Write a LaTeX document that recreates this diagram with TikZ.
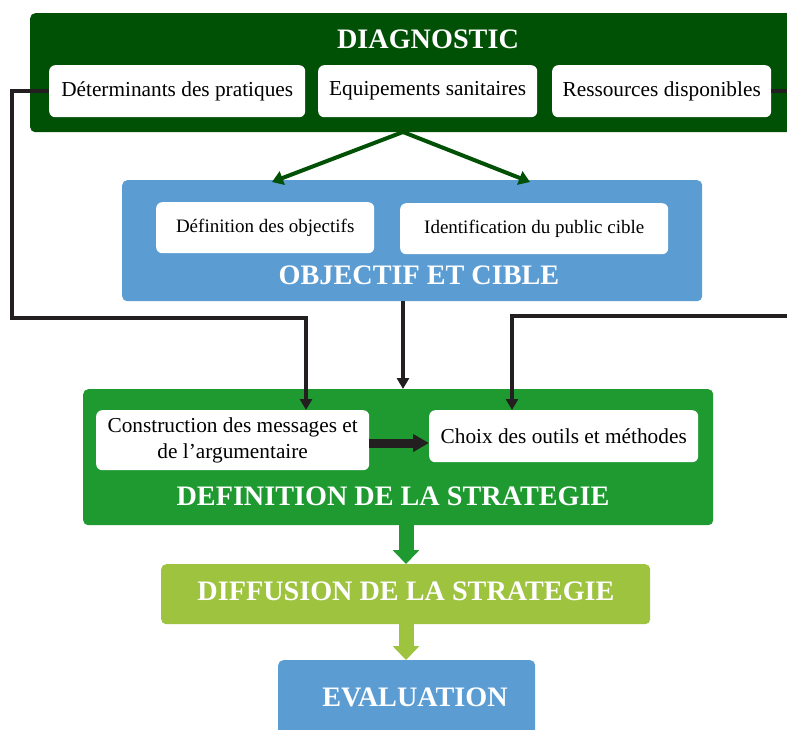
\documentclass[tikz,border=0pt]{standalone}
\usepackage{fontspec}
\setmainfont{Liberation Serif}
\usetikzlibrary{arrows.meta}
\definecolor{dgreen}{RGB}{0,80,5}
\definecolor{bblue}{RGB}{91,157,211}
\definecolor{mgreen}{RGB}{30,154,48}
\definecolor{lgreen}{RGB}{157,195,63}
\definecolor{lineblack}{RGB}{35,31,32}
\tikzset{
  outer/.style={draw=none, rounded corners=5pt, anchor=north west, inner sep=0pt},
  inner/.style={fill=white, rounded corners=6pt, anchor=north west, inner sep=0pt, align=center, text=black},
  title/.style={text=white, font=\bfseries\fontsize{28.2}{30}\selectfont},
  bodyA/.style={font=\fontsize{21.3}{26}\selectfont},
  bodyB/.style={font=\fontsize{19}{21}\selectfont},
  conn/.style={draw=lineblack, line width=4pt, -{Triangle[width=12pt,length=11pt]}},
  gconn/.style={draw=dgreen, line width=4pt, -{Triangle[width=14pt,length=11pt]}},
  fat/.style={line width=15pt, -{Triangle[width=26pt,length=14pt]}},
}
\begin{document}
\begin{tikzpicture}[x=1pt,y=-1pt]
\useasboundingbox (0,0) rectangle (787,729);
\clip (0,0) rectangle (787,729);
% outer boxes
\node[outer, fill=dgreen, minimum width=775pt, minimum height=119pt] (diag) at (30,13) {};
\node[outer, fill=bblue, minimum width=580pt, minimum height=121pt] (obj) at (122,180) {};
\node[outer, fill=mgreen, minimum width=630pt, minimum height=136pt] (def) at (83,389) {};
\node[outer, fill=lgreen, minimum width=489pt, minimum height=60pt] (diff) at (161,564) {};
\node[outer, fill=bblue, minimum width=257pt, minimum height=90pt] (eval) at (278,660) {};
% titles
\node[title] (tdiag) at (428,39) {DIAGNOSTIC};
\node[title] (tobj) at (419,275) {OBJECTIF ET CIBLE};
\node[title] (tdef) at (393,496) {DEFINITION DE LA STRATEGIE};
\node[title] (tdiff) at (406,591) {DIFFUSION DE LA STRATEGIE};
\node[title] (teval) at (415,697) {EVALUATION};
% inner boxes
\node[inner, bodyA, minimum width=256pt, minimum height=52pt] (b1) at (49,65) {Déterminants des pratiques};
\node[inner, bodyA, minimum width=219pt, minimum height=52pt] (b2) at (318,65) {Equipements sanitaires};
\node[inner, bodyA, minimum width=219pt, minimum height=52pt] (b3) at (552,65) {Ressources disponibles};
\node[inner, bodyB, minimum width=218pt, minimum height=51pt] (o1) at (156,202) {Définition des objectifs};
\node[inner, bodyB, minimum width=268pt, minimum height=51pt] (o2) at (400,203) {Identification du public cible};
\node[inner, bodyA, minimum width=273pt, minimum height=60pt] (d1) at (96,410) {Construction des messages et\\de l’argumentaire};
\node[inner, bodyA, minimum width=269pt, minimum height=52pt] (d2) at (429,410) {Choix des outils et méthodes};
% anchor coordinates
\coordinate (dsrc) at (403,132);
\coordinate (oin1) at (272,182);
\coordinate (oin2) at (530,182);
\coordinate (osrc) at (403,301);
\coordinate (defin) at (403,389);
\coordinate (lturn) at (12,318);
\coordinate (d1in) at (306,410);
\coordinate (rturn) at (800,316);
\coordinate (d2in) at (512,410);
\coordinate (defout) at (406,525);
\coordinate (diffin) at (406,564);
\coordinate (diffout) at (406,624);
\coordinate (evalin) at (406,660);
% connectors
\draw[gconn] (dsrc) -- (oin1);
\draw[gconn] (dsrc) -- (oin2);
\draw[conn] (osrc) -- (defin);
\draw[conn] (b1.west) -| (lturn) -| (d1in);
\draw[conn] (b3.east) -| (rturn) -| (d2in);
\draw[draw=lineblack, line width=9pt, -{Triangle[width=17pt,length=16pt]}] (d1.east |- 0,443) -- (d2.west |- 0,443);
\draw[fat, draw=mgreen, fill=mgreen] (defout) -- (diffin);
\draw[fat, draw=lgreen, fill=lgreen] (diffout) -- (evalin);
\end{tikzpicture}
\end{document}
